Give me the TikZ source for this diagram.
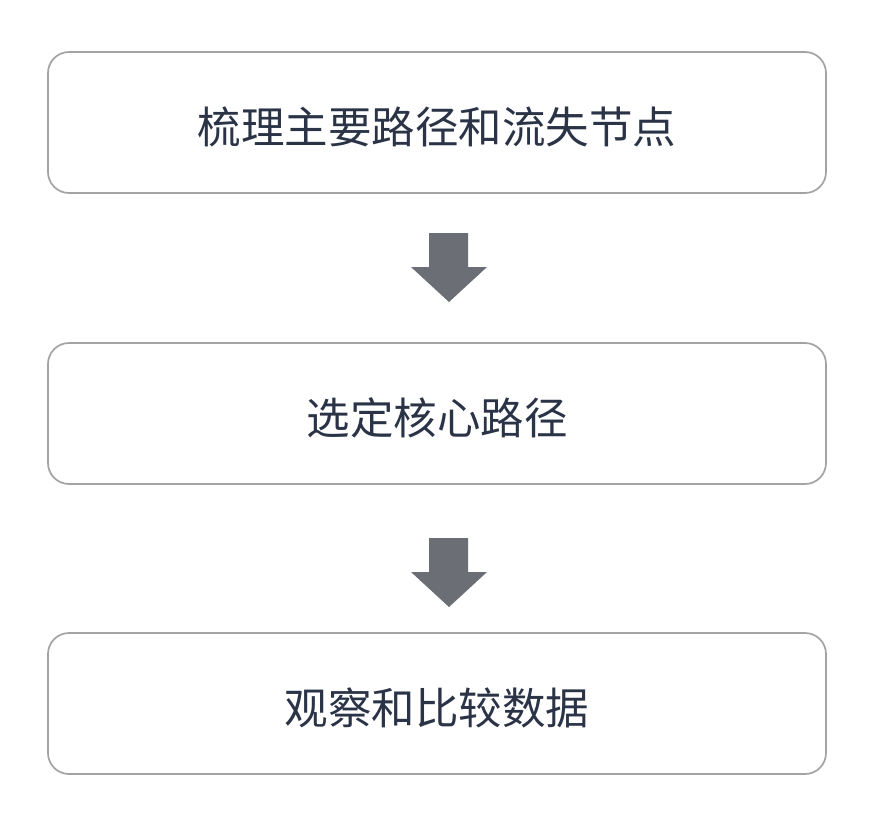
\documentclass[tikz,border=0pt]{standalone}
\usepackage{fontspec}
\newfontfamily\cjk{Noto Sans CJK SC}
\usepackage{tikz}
\usetikzlibrary{positioning}

\definecolor{boxline}{HTML}{A3A3A6}
\definecolor{arrowgray}{HTML}{6B6E75}
\definecolor{textnavy}{HTML}{2B3447}

\tikzset{
  stagebox/.style={draw=boxline, line width=1.7pt, fill=white, rounded corners=21pt,
    minimum width=778pt, minimum height=141pt, text=textnavy,
    text height=47pt, text depth=5pt,
    font=\cjk\fontsize{43.5}{50}\selectfont},
  downarrow/.style={fill=arrowgray}
}

\begin{document}
\begin{tikzpicture}[x=1pt, y=-1pt]
      \useasboundingbox[fill=white] (0, 0) rectangle (874, 824);
      \node[stagebox] (paths) at (437, 122.5) {梳理主要路径和流失节点};
      \node[stagebox] (core) at (437, 413.5) {选定核心路径};
      \node[stagebox] (data) at (437, 703.5) {观察和比较数据};
      % block arrows between the stages
      \fill[downarrow] (429, 233) -- (468, 233) -- (468, 267) -- (487, 267) -- (449, 302) -- (411, 267) -- (429, 267) -- cycle;
      \fill[downarrow] (429, 538) -- (468, 538) -- (468, 572) -- (487, 572) -- (449, 607) -- (411, 572) -- (429, 572) -- cycle;
\end{tikzpicture}
\end{document}
